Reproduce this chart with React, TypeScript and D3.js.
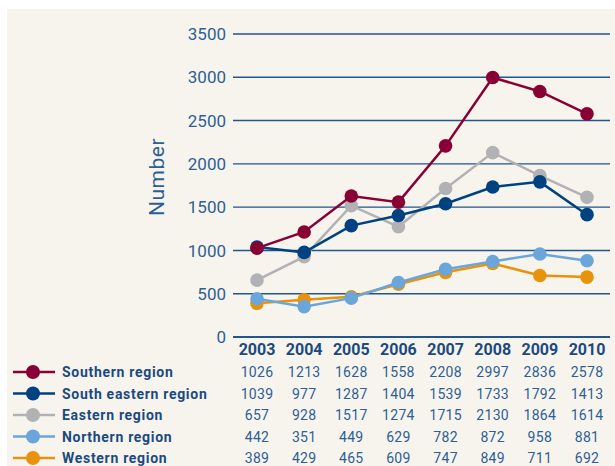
import React, { useEffect, useRef } from "react";
import * as d3 from "d3";

// chart data
const years = ["2003", "2004", "2005", "2006", "2007", "2008", "2009", "2010"];
const regions = ["Southern region", "South eastern region", "Eastern region", "Northern region", "Western region"];
const southern = [1026, 1213, 1628, 1558, 2208, 2997, 2836, 2578];
const southEastern = [1039, 977, 1287, 1404, 1539, 1733, 1792, 1413];
const eastern = [657, 928, 1517, 1274, 1715, 2130, 1864, 1614];
const northern = [442, 351, 449, 629, 782, 872, 958, 881];
const western = [389, 429, 465, 609, 747, 849, 711, 692];
const yTicks = [0, 500, 1000, 1500, 2000, 2500, 3000, 3500];
const colors = ["#880034", "#00427f", "#b2b2b4", "#6aa6da", "#e8930c"];

const App = () => {
  const ref = useRef<SVGSVGElement>(null);

  useEffect(() => {
    const svg = d3.select(ref.current);
    svg.selectAll("*").remove();

    const series = [southern, southEastern, eastern, northern, western];
    const fontFam = "Roboto, 'Noto Sans', sans-serif";
    const labelColor = "#1b4a80";
    const numColor = "#2d5f94";

    // background
    svg.append("rect")
      .attr("x", 7)
      .attr("y", 9)
      .attr("width", 615 - 7)
      .attr("height", 466 - 9)
      .attr("fill", "#f7f4ee");

    const x = d3.scalePoint().domain(years).range([257, 587]);
    const y = d3.scaleLinear().domain([0, 3500]).range([337, 34]);

    // grid lines
    svg.append("g")
      .selectAll("line")
      .data(yTicks)
      .enter()
      .append("line")
      .attr("x1", 233)
      .attr("x2", 610)
      .attr("y1", (d) => y(d))
      .attr("y2", (d) => y(d))
      .attr("stroke", "#21558e")
      .attr("stroke-width", (d) => (d === 0 ? 2 : 1.4));

    // y tick labels
    svg.append("g")
      .selectAll("text")
      .data(yTicks)
      .enter()
      .append("text")
      .attr("x", 226)
      .attr("y", (d) => y(d))
      .attr("dy", "0.36em")
      .attr("text-anchor", "end")
      .style("font-family", fontFam)
      .style("font-size", "17px")
      .attr("fill", numColor)
      .text((d) => d);

    // axis title
    svg.append("text")
      .attr("transform", "translate(164,177) rotate(-90)")
      .attr("text-anchor", "middle")
      .style("font-family", fontFam)
      .style("font-size", "21px")
      .style("letter-spacing", "0.5px")
      .attr("fill", numColor)
      .text("Number");

    // year labels
    svg.append("g")
      .selectAll("text")
      .data(years)
      .enter()
      .append("text")
      .attr("x", (d) => x(d)!)
      .attr("y", 355)
      .attr("text-anchor", "middle")
      .style("font-family", fontFam)
      .style("font-size", "16px")
      .style("font-weight", "bold")
      .attr("fill", labelColor)
      .text((d) => d);

    const line = d3.line<number>()
      .x((d, i) => x(years[i])!)
      .y((d) => y(d));

    // lines and markers, first region on top
    for (let k = series.length - 1; k >= 0; k--) {
      const vals = series[k];
      svg.append("path")
        .datum(vals)
        .attr("fill", "none")
        .attr("stroke", colors[k])
        .attr("stroke-width", 2.5)
        .attr("d", line);
      svg.append("g")
        .selectAll("circle")
        .data(vals)
        .enter()
        .append("circle")
        .attr("cx", (d, i) => x(years[i])!)
        .attr("cy", (d) => y(d))
        .attr("r", 6.8)
        .attr("fill", colors[k]);
    }

    // legend + table
    const rowY = d3.scalePoint().domain(regions).range([372, 458]);
    regions.forEach((name, k) => {
      const cy = rowY(name)!;
      svg.append("line")
        .attr("x1", 13)
        .attr("x2", 55)
        .attr("y1", cy)
        .attr("y2", cy)
        .attr("stroke", colors[k])
        .attr("stroke-width", 2.5);
      svg.append("circle")
        .attr("cx", 33)
        .attr("cy", cy)
        .attr("r", 7)
        .attr("fill", colors[k]);
      svg.append("text")
        .attr("x", 62)
        .attr("y", cy + 5)
        .style("font-family", fontFam)
        .style("font-size", "14px")
        .style("font-weight", "bold")
        .style("letter-spacing", "0.7px")
        .attr("fill", labelColor)
        .text(name);
      svg.append("g")
        .selectAll("text")
        .data(series[k])
        .enter()
        .append("text")
        .attr("x", (d, i) => x(years[i])!)
        .attr("y", cy + 5)
        .attr("text-anchor", "middle")
        .style("font-family", fontFam)
        .style("font-size", "14px")
        .style("letter-spacing", "0.3px")
        .attr("fill", numColor)
        .text((d) => d);
    });
  }, []);

  return (
    <svg
      ref={ref}
      width={615}
      height={466}
      style={{ position: "absolute", left: 0, top: 0 }}
    />
  );
};

export default App;
